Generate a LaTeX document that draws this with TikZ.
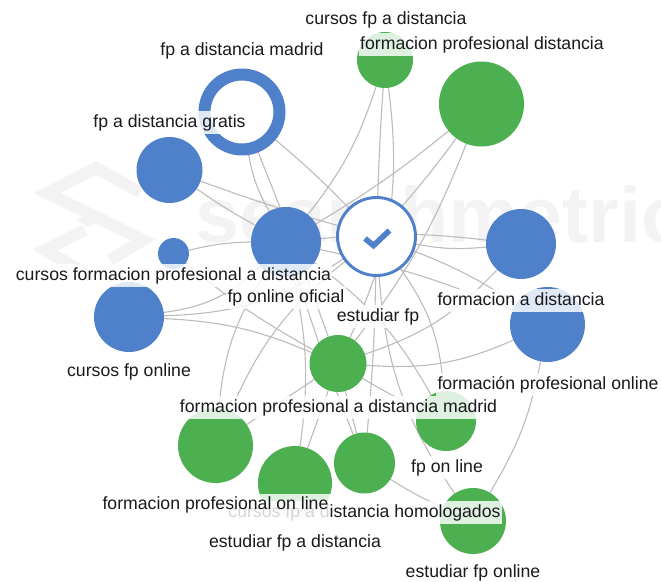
\documentclass[tikz,border=0pt]{standalone}
\usepackage{fontspec}
\setmainfont{Liberation Sans}
\newfontfamily\wmfont{Liberation Sans}
\pgfdeclarelayer{wm}\pgfdeclarelayer{edge}
\pgfsetlayers{wm,edge,main}
\definecolor{nblue}{HTML}{4F80CA}
\definecolor{ngreen}{HTML}{4CAF50}
\definecolor{nedge}{HTML}{BDBDBD}
\definecolor{wmgray}{HTML}{F3F3F3}
\definecolor{ink}{HTML}{1A1A1E}
\tikzset{x=0.75pt,y=-0.75pt,
 hub/.style={circle,inner sep=0pt,outer sep=0pt,minimum size=#1*1.5pt},
 bn/.style={hub=#1,fill=nblue},
 gn/.style={hub=#1,fill=ngreen},
 lab/.style={inner xsep=1pt,inner ysep=0pt,fill=white,fill opacity=.82,text opacity=1,text=ink,yshift=-1.2pt,
  font=\fontsize{13.25}{15}\selectfont,text height=9.6pt,text depth=3pt,minimum height=17pt},
 lk/.style={draw=nedge,line width=0.85pt},
 wm/.style={draw=wmgray,line width=9pt,line join=miter}}
\begin{document}
\begin{tikzpicture}
\useasboundingbox (0,0) rectangle (661,582);
\clip (0,0) rectangle (661,582);
% nodes
\node[hub=37.5,draw=nblue,line width=9pt,fill=white] (m) at (242,112) {};
\node[bn=33] (g) at (169.5,170) {};
\node[bn=35] (o) at (286,242) {};
\node[bn=15.5] (c) at (173.5,253.5) {};
\node[bn=35] (co) at (129,317) {};
\node[gn=28] (cd) at (385,60) {};
\node[gn=42.5] (fd) at (481.5,104) {};
\node[hub=39,draw=nblue,line width=2.2pt,fill=white] (e) at (376.5,236.5) {};
\node[bn=35] (fa) at (521,244) {};
\node[bn=37.5] (fo) at (547.5,324.5) {};
\node[gn=28.5] (mad) at (338,363.5) {};
\node[gn=30] (fl) at (446,421) {};
\node[gn=33] (eo) at (473,521) {};
\node[gn=30.5] (h) at (364.5,463) {};
\node[gn=37.5] (pl) at (215.5,445.5) {};
\node[gn=37] (ed) at (295,483) {};
\draw[nblue,line width=4.2pt] (365,238.5) -- (373.5,245.5) -- (389.5,230.5);
% edges
\begin{pgfonlayer}{edge}
\draw[lk] (m) to[bend right=10] (o);
\draw[lk] (m) to[bend left=1] (mad);
\draw[lk] (m) to[bend left=3] (e);
\draw[lk] (g) to[bend right=3] (o);
\draw[lk] (g) to[bend right=2] (e);
\draw[lk] (c) to[bend left=6] (o);
\draw[lk] (c) to[bend right=5] (mad);
\draw[lk] (co) to[bend right=18] (o);
\draw[lk] (co) to[bend right=16] (e);
\draw[lk] (co) to[bend left=10] (mad);
\draw[lk] (cd) to[bend left=10] (o);
\draw[lk] (cd) to[bend right=1] (e);
\draw[lk] (cd) to[bend left=16] (mad);
\draw[lk] (fd) to[bend left=4] (o);
\draw[lk] (fd) to[bend left=2] (e);
\draw[lk] (fd) to[bend left=8] (mad);
\draw[lk] (fa) to[bend right=6] (o);
\draw[lk] (fa) to[bend left=8] (e);
\draw[lk] (fa) to[bend left=14] (mad);
\draw[lk] (fo) to[bend right=5] (o);
\draw[lk] (fo) to[bend right=6] (e);
\draw[lk] (fo) to[bend left=14] (mad);
\draw[lk] (fo) to[bend left=10] (eo);
\draw[lk] (e) to[bend left=16] (fl);
\draw[lk] (o) to[bend left=12] (fl);
\draw[lk] (mad) to[bend right=3] (fl);
\draw[lk] (e) to[bend right=15] (eo);
\draw[lk] (h) to[bend right=4] (eo);
\draw[lk] (o) to[bend right=2] (h);
\draw[lk] (e) to[bend left=2] (h);
\draw[lk] (mad) to (h);
\draw[lk] (o) to[bend right=14] (pl);
\draw[lk] (e) to[bend right=14] (pl);
\draw[lk] (mad) to (pl);
\draw[lk] (o) to[bend left=10] (ed);
\draw[lk] (mad) to (ed);
\end{pgfonlayer}
% watermark
\begin{pgfonlayer}{wm}
\node[anchor=base west,inner sep=0pt,text=wmgray,font=\wmfont\bfseries\fontsize{59}{59}\selectfont] (wmt) at (195,242) {searchmetrics};
\draw[wm] (140,192) -- (96,168) -- (47,193) -- (143,240) -- (110,260);
\draw[wm] (85,230) -- (45,250) -- (90,276);
\fill[wmgray] (76,220) -- (88,213) -- (100,220) -- (88,227) -- cycle;
\end{pgfonlayer}
% labels
\node[lab] (lcd) at (386,18) {cursos fp a distancia};
\node[lab] (lm) at (242,49) {fp a distancia madrid};
\node[lab] (lfd) at (482,43) {formacion profesional distancia};
\node[lab] (lg) at (169.5,121) {fp a distancia gratis};
\node[lab] (lc) at (173.5,274) {cursos formacion profesional a distancia};
\node[lab] (lo) at (286,296) {fp online oficial};
\node[lab] (le) at (378,315) {estudiar fp};
\node[lab] (lfa) at (521,299) {formacion a distancia};
\node[lab] (lco) at (129,370) {cursos fp online};
\node[lab] (lfo) at (548,383) {formación profesional online};
\node[lab] (lmad) at (338.5,406) {formacion profesional a distancia madrid};
\node[lab] (lfl) at (447,466) {fp on line};
\node[lab] (lh) at (364.5,511) {cursos fp a distancia homologados};
\node[lab,text depth=7.5pt,minimum height=21pt] (lpl) at (215.5,506) {formacion profesional on line};
\node[lab] (led) at (295,541) {estudiar fp a distancia};
\node[lab] (leo) at (473,571) {estudiar fp online};
\end{tikzpicture}
\end{document}
